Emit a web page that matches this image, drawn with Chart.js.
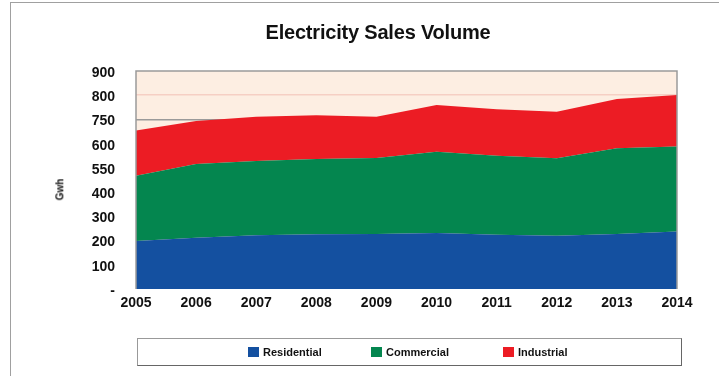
<!DOCTYPE html>
<html>
<head>
<meta charset="utf-8">
<script src="https://cdn.jsdelivr.net/npm/chart.js@4"></script>
<style>
    body { margin: 0; background: #fff; font-family: 'Liberation Sans', Arial, sans-serif; }
    #wrap { position: relative; width: 719px; height: 376px; overflow: hidden; }
    #frame { position: absolute; left: 10px; top: 2px; width: 720px; height: 380px; border-left: 1.5px solid #a0a0a0; border-top: 1.5px solid #a0a0a0; }
    #title { position: absolute; left: 0; width: 756px; top: 21px; text-align: center; font-size: 20px; font-weight: bold; color: #111; letter-spacing: -0.2px; }
    #yTitle { position: absolute; left: 49px; top: 184px; font-size: 10px; font-weight: bold; color: #111; transform: rotate(-90deg); }
    #legend { position: absolute; left: 137px; top: 338px; width: 543px; height: 26px; border: 1px solid #999; border-right-color: #666; border-bottom-color: #666; }
    .item { position: absolute; top: 8px; font-size: 11px; font-weight: bold; color: #111; line-height: 11px; }
    .box { display: inline-block; width: 11px; height: 10px; vertical-align: top; margin-right: 4px; }
    canvas { position: absolute; left: 0; top: 0; }
</style>
</head>
<body>
<div id="wrap">
    <div id="frame"></div>
    <canvas id="salesChart" width="719" height="376"></canvas>
    <div id="title">Electricity Sales Volume</div>
    <div id="yTitle">Gwh</div>
    <div id="legend"></div>
</div>
<script>
// values (Gwh)
const years = ['2005', '2006', '2007', '2008', '2009', '2010', '2011', '2012', '2013', '2014'];
const residential = [198, 212, 222, 226, 227, 231, 224, 220, 227, 237];
const commercial = [270, 304, 306, 311, 314, 336, 326, 320, 354, 351];
const industrial = [186, 178, 183, 180, 170, 193, 192, 192, 203, 213];
const yTickLabels = ['-', '100', '200', '300', '400', '550', '600', '750', '800', '900'];

const seriesNames = ['Residential', 'Commercial', 'Industrial'];
const seriesColors = ['#1450a0', '#04864f', '#ec1c24'];

const legend = document.getElementById('legend');
const legendLeft = [110, 233, 365];
seriesNames.forEach((name, i) => {
    const item = document.createElement('div');
    item.className = 'item';
    item.style.left = legendLeft[i] + 'px';
    item.innerHTML = `<span class="box" style="background:${seriesColors[i]}"></span>${name}`;
    legend.appendChild(item);
});

const plotBackground = {
    id: 'plotBackground',
    beforeDraw(chart) {
        const { ctx, chartArea } = chart;
        ctx.save();
        ctx.fillStyle = '#fdeee2';
        ctx.fillRect(chartArea.left, chartArea.top, chartArea.right - chartArea.left, chartArea.bottom - chartArea.top);
        ctx.restore();
    },
    afterDatasetsDraw(chart) {
        const { ctx, chartArea } = chart;
        ctx.save();
        ctx.strokeStyle = '#9a9a9a';
        ctx.lineWidth = 1.5;
        ctx.beginPath();
        ctx.moveTo(chartArea.left, chartArea.bottom);
        ctx.lineTo(chartArea.left, chartArea.top);
        ctx.lineTo(chartArea.right, chartArea.top);
        ctx.lineTo(chartArea.right, chartArea.bottom);
        ctx.stroke();
        ctx.restore();
    },
};

const font = { family: "'Liberation Sans', Arial, sans-serif", size: 14, weight: 'bold' };

new Chart(document.getElementById('salesChart'), {
    type: 'line',
    data: {
        labels: years,
        datasets: [residential, commercial, industrial].map((values, i) => ({
            label: seriesNames[i],
            data: values,
            fill: i === 0 ? 'origin' : '-1',
            backgroundColor: seriesColors[i],
            borderWidth: 0,
            pointRadius: 0,
            tension: 0,
        })),
    },
    options: {
        responsive: false,
        animation: false,
        layout: {
            padding: { left: 0, right: 42, top: 71, bottom: 0 },
        },
        scales: {
            x: {
                offset: false,
                grid: { display: false },
                border: { display: false },
                ticks: { color: '#111', font, padding: -2, maxRotation: 0 },
                afterFit(scale) { scale.height = 87; },
            },
            y: {
                stacked: true,
                min: 0,
                max: 900,
                border: { display: false },
                grid: {
                    drawTicks: false,
                    lineWidth: 1.5,
                    color: (c) => (c.tick && c.tick.value === 700 ? '#9a9a9a' : c.tick && c.tick.value === 800 ? '#f6cfc4' : 'rgba(0,0,0,0)'),
                },
                ticks: {
                    stepSize: 100,
                    padding: 21,
                    labelOffset: 2,
                    color: '#111',
                    font,
                    callback: (value, index) => yTickLabels[index],
                },
                afterFit(scale) { scale.width = 136; },
            },
        },
        plugins: {
            legend: { display: false },
            tooltip: { enabled: false },
        },
    },
    plugins: [plotBackground],
});
</script>
</body>
</html>
